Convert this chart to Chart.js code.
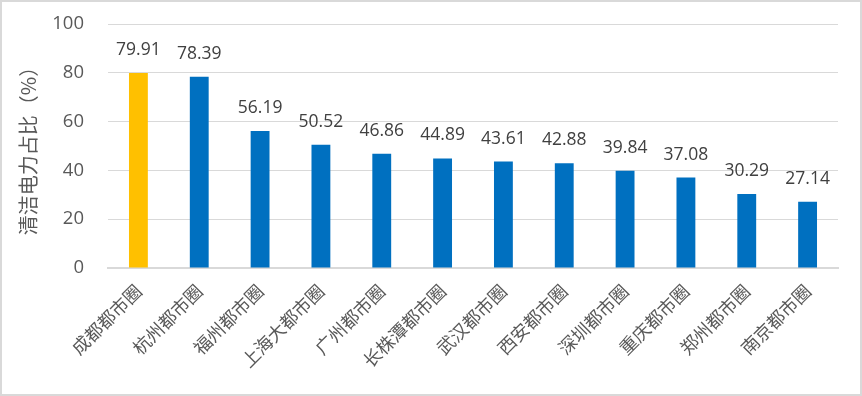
<!DOCTYPE html>
<html>
<head>
<meta charset="utf-8">
<script src="https://cdn.jsdelivr.net/npm/chart.js@4"></script>
<style>
  html, body { margin: 0; padding: 0; background: #fff; }
  #wrap { width: 858px; height: 392px; border: 2px solid #d9d9d9; position: relative; }
</style>
</head>
<body>
<div id="wrap"><canvas id="chart" width="858" height="392"></canvas></div>
<script>
// Data
const categories = ["成都都市圈", "杭州都市圈", "福州都市圈", "上海大都市圈", "广州都市圈", "长株潭都市圈",
  "武汉都市圈", "西安都市圈", "深圳都市圈", "重庆都市圈", "郑州都市圈", "南京都市圈"];
const shares = [79.91, 78.39, 56.19, 50.52, 46.86, 44.89, 43.61, 42.88, 39.84, 37.08, 30.29, 27.14];
const yTicks = [0, 20, 40, 60, 80, 100];
const barColors = shares.map((v, i) => (i === 0 ? "#FFC000" : "#0070C0"));

// value labels above bars
const valueLabels = {
  id: "valueLabels",
  afterDatasetsDraw(chart) {
    const ctx = chart.ctx;
    const meta = chart.getDatasetMeta(0);
    ctx.save();
    ctx.font = "17.5px 'Open Sans', 'Noto Sans', sans-serif";
    ctx.fillStyle = "#404040";
    ctx.textAlign = "center";
    ctx.textBaseline = "alphabetic";
    meta.data.forEach((bar, i) => {
      ctx.fillText(shares[i].toFixed(2), bar.x, bar.y - 18);
    });
    ctx.restore();
  },
};

new Chart(document.getElementById("chart"), {
  type: "bar",
  data: {
    labels: categories,
    datasets: [
      {
        data: shares,
        backgroundColor: barColors,
        categoryPercentage: 1,
        barPercentage: 0.31,
      },
    ],
  },
  options: {
    responsive: false,
    animation: false,
    layout: { padding: { top: 22, right: 22, left: 10, bottom: 0 } },
    plugins: { legend: { display: false }, tooltip: { enabled: false } },
    scales: {
      y: {
        min: 0,
        max: 100,
        afterBuildTicks: (axis) => {
          axis.ticks = yTicks.map((v) => ({ value: v }));
        },
        afterFit: (axis) => {
          axis.width = 96;
          axis.paddingTop = 0;
          axis.paddingBottom = 0;
        },
        border: { display: false },
        grid: { color: "#d9d9d9", lineWidth: 1, drawTicks: false },
        ticks: {
          color: "#595959",
          padding: 24,
          font: { size: 18.5, family: "'Open Sans', 'Noto Sans', sans-serif" },
        },
        title: {
          display: true,
          text: "清洁电力占比（%）",
          color: "#595959",
          padding: { bottom: 0 },
          font: { size: 20, family: "'Noto Sans CJK SC', sans-serif" },
        },
      },
      x: {
        afterFit: (axis) => {
          axis.height = 126;
        },
        border: { display: true, color: "#d9d9d9", width: 2 },
        grid: { display: false },
        ticks: {
          color: "#595959",
          minRotation: 45,
          maxRotation: 45,
          padding: 4,
          font: { size: 18, family: "'Noto Sans CJK SC', sans-serif" },
        },
      },
    },
  },
  plugins: [valueLabels],
});
</script>
</body>
</html>
